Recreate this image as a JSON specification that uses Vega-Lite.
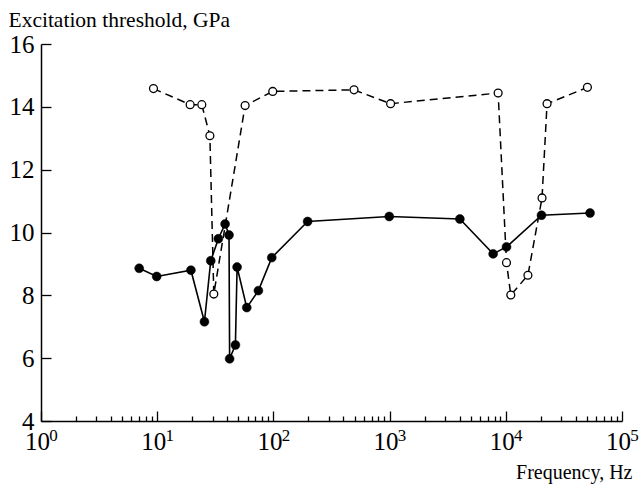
{
  "$schema": "https://vega.github.io/schema/vega-lite/v6.json",
  "width": 581,
  "height": 377,
  "autosize": {"type": "none"},
  "padding": {"left": 41, "top": 44, "right": 21, "bottom": 68},
  "background": "white",
  "config": {
    "view": {"stroke": null},
    "font": "Liberation Serif",
    "axis": {"labelFont": "Liberation Serif", "titleFont": "Liberation Serif"}
  },
  "datasets": {
    "filled": [
      {"f": 7.0, "v": 8.86},
      {"f": 9.9, "v": 8.6},
      {"f": 19.5, "v": 8.8},
      {"f": 25.5, "v": 7.16},
      {"f": 28.9, "v": 9.1},
      {"f": 33.6, "v": 9.8},
      {"f": 38.4, "v": 10.27},
      {"f": 41.5, "v": 9.92},
      {"f": 42.0, "v": 5.98},
      {"f": 47.1, "v": 6.42},
      {"f": 48.7, "v": 8.9},
      {"f": 59, "v": 7.61},
      {"f": 74.3, "v": 8.15},
      {"f": 96.8, "v": 9.2},
      {"f": 197, "v": 10.35},
      {"f": 993, "v": 10.51},
      {"f": 4025, "v": 10.43},
      {"f": 7780, "v": 9.32},
      {"f": 10140, "v": 9.54},
      {"f": 20280, "v": 10.55},
      {"f": 53100, "v": 10.62}
    ],
    "open": [
      {"f": 9.29, "v": 14.58},
      {"f": 19.2, "v": 14.07},
      {"f": 24.2, "v": 14.07},
      {"f": 28.4, "v": 13.08},
      {"f": 30.7, "v": 8.04},
      {"f": 57.1, "v": 14.04},
      {"f": 98.7, "v": 14.49},
      {"f": 494, "v": 14.54},
      {"f": 1020, "v": 14.1},
      {"f": 8590, "v": 14.44},
      {"f": 10140, "v": 9.04},
      {"f": 11040, "v": 8.01},
      {"f": 15500, "v": 8.64},
      {"f": 20500, "v": 11.1},
      {"f": 22650, "v": 14.1},
      {"f": 50400, "v": 14.62}
    ]
  },
  "encoding": {
    "y": {
      "field": "v",
      "type": "quantitative",
      "scale": {"domain": [4, 16], "nice": false, "zero": false},
      "axis": {
        "values": [4, 6, 8, 10, 12, 14, 16],
        "tickSize": -10,
        "tickColor": "black",
        "tickWidth": 1.3,
        "domainColor": "black",
        "domainWidth": 1.5,
        "grid": false,
        "labelFont": "Liberation Serif",
        "labelFontSize": 25,
        "labelColor": "black",
        "labelPadding": 17,
        "labelFlush": false,
        "labelOverlap": false,
        "title": "Excitation threshold, GPa",
        "titleFont": "Liberation Serif",
        "titleFontSize": 21.5,
        "titleFontWeight": "normal",
        "titleColor": "black",
        "titleAngle": 0,
        "titleAlign": "left",
        "titleBaseline": "alphabetic",
        "titleAnchor": null,
        "titleX": -33,
        "titleY": -18
      }
    }
  },
  "resolve": {"axis": {"x": "independent"}},
  "layer": [
    {
      "data": {"name": "open"},
      "mark": {"type": "line", "color": "black", "strokeWidth": 1.5, "strokeDash": [8, 5]},
      "encoding": {
        "x": {
          "field": "f",
          "type": "quantitative",
          "scale": {"type": "log", "domain": [1, 100000], "nice": false},
          "axis": {
            "orient": "bottom",
            "values": [1,2,3,4,5,6,7,8,9,10,20,30,40,50,60,70,80,90,100,200,300,400,500,600,700,800,900,1000,2000,3000,4000,5000,6000,7000,8000,9000,10000,20000,30000,40000,50000,60000,70000,80000,90000,100000],
            "labelExpr": "abs(log(datum.value)/LN10 - round(log(datum.value)/LN10)) < 0.000001 ? '10' : ''",
            "tickSize": {"condition": {"test": "abs(log(datum.value)/LN10 - round(log(datum.value)/LN10)) < 0.000001", "value": -10}, "value": -5},
            "tickColor": "black",
            "tickWidth": 1.3,
            "domainColor": "black",
            "domainWidth": 1.5,
            "grid": false,
            "labelFont": "Liberation Serif",
            "labelFontSize": 25,
            "labelColor": "black",
            "labelPadding": 18,
            "labelOffset": -4,
            "labelFlush": false,
            "labelOverlap": false,
            "labelBound": false,
            "title": "Frequency, Hz",
            "titleFont": "Liberation Serif",
            "titleFontSize": 20,
            "titleFontWeight": "normal",
            "titleColor": "black",
            "titleAlign": "right",
            "titleBaseline": "alphabetic",
            "titleAnchor": null,
            "titleX": 591,
            "titleY": 57
          }
        }
      }
    },
    {
      "data": {"name": "filled"},
      "mark": {"type": "line", "color": "black", "strokeWidth": 1.6},
      "encoding": {
        "x": {
          "field": "f",
          "type": "quantitative",
          "scale": {"type": "log", "domain": [1, 100000], "nice": false},
          "axis": {
            "orient": "bottom",
            "values": [1, 10, 100, 1000, 10000, 100000],
            "labelExpr": "['0','1','2','3','4','5'][round(log(datum.value)/LN10)]",
            "ticks": false,
            "tickSize": 0,
            "domain": false,
            "grid": false,
            "labelFont": "Liberation Serif",
            "labelFontSize": 17,
            "labelColor": "black",
            "labelPadding": 6,
            "labelOffset": 12,
            "labelFlush": false,
            "labelOverlap": false,
            "labelBound": false,
            "title": null
          }
        }
      }
    },
    {
      "data": {"name": "open"},
      "mark": {"type": "point", "shape": "circle", "filled": true, "fill": "white", "stroke": "black", "strokeWidth": 1.3, "size": 62, "opacity": 1},
      "encoding": {
        "x": {"field": "f", "type": "quantitative", "scale": {"type": "log", "domain": [1, 100000], "nice": false}, "axis": null}
      }
    },
    {
      "data": {"name": "filled"},
      "mark": {"type": "point", "shape": "circle", "filled": true, "fill": "black", "stroke": "black", "strokeWidth": 0.5, "size": 80, "opacity": 1},
      "encoding": {
        "x": {"field": "f", "type": "quantitative", "scale": {"type": "log", "domain": [1, 100000], "nice": false}, "axis": null}
      }
    }
  ]
}
